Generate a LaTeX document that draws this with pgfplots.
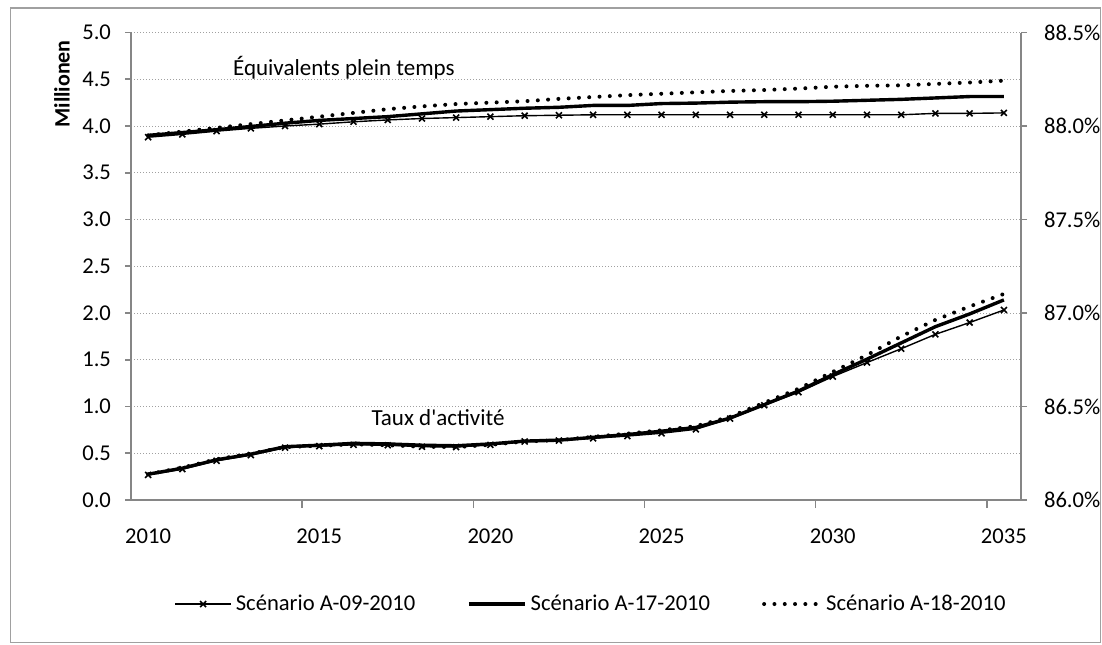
\documentclass[border=0pt]{standalone}
\usepackage{fontspec}
\setmainfont{Carlito}[Ligatures=TeXOff]
\usepackage{pgfplots}
\usepackage{pgfplotstable}
\pgfplotsset{compat=1.18}

% full-time equivalents, millions (left axis)
\pgfplotstableread{
year a09 a17 a18
2010 3.880 3.900 3.900
2011 3.910 3.930 3.940
2012 3.945 3.960 3.980
2013 3.975 3.995 4.020
2014 4.000 4.030 4.060
2015 4.020 4.060 4.100
2016 4.045 4.080 4.140
2017 4.065 4.100 4.180
2018 4.080 4.130 4.210
2019 4.090 4.160 4.235
2020 4.100 4.175 4.250
2021 4.110 4.190 4.265
2022 4.115 4.200 4.290
2023 4.120 4.220 4.310
2024 4.120 4.220 4.330
2025 4.120 4.240 4.345
2026 4.120 4.245 4.360
2027 4.120 4.255 4.375
2028 4.120 4.260 4.385
2029 4.120 4.260 4.400
2030 4.120 4.265 4.420
2031 4.120 4.275 4.430
2032 4.120 4.285 4.435
2033 4.135 4.300 4.450
2034 4.135 4.315 4.465
2035 4.140 4.315 4.485
}\fte

% activity rate, percent (right axis)
\pgfplotstableread{
year a09 a17 a18
2010 86.134 86.138 86.138
2011 86.165 86.170 86.173
2012 86.210 86.215 86.218
2013 86.240 86.245 86.248
2014 86.280 86.285 86.283
2015 86.288 86.293 86.290
2016 86.295 86.303 86.298
2017 86.293 86.300 86.293
2018 86.285 86.293 86.285
2019 86.283 86.290 86.283
2020 86.295 86.300 86.295
2021 86.313 86.315 86.313
2022 86.318 86.320 86.320
2023 86.330 86.335 86.338
2024 86.342 86.350 86.355
2025 86.357 86.368 86.373
2026 86.378 86.388 86.395
2027 86.435 86.438 86.445
2028 86.507 86.510 86.520
2029 86.576 86.583 86.595
2030 86.660 86.670 86.685
2031 86.735 86.753 86.775
2032 86.809 86.840 86.875
2033 86.886 86.927 86.963
2034 86.949 86.995 87.035
2035 87.016 87.070 87.102
}\taux

\definecolor{axgray}{HTML}{868686}
\definecolor{grgray}{HTML}{A0A0A0}

\pgfplotsset{
  base/.style={
    at={(65.5pt,72pt)}, anchor=south west,
    scale only axis, width=445pt, height=233.75pt,
    xmin=2009.5, xmax=2035.5,
    tick align=outside,
    major tick length=3pt,
    axis line style={axgray, line width=0.8pt},
    every tick/.style={axgray, line width=0.8pt},
    tick label style={font=\fontsize{11.3}{13}\selectfont, black},
    clip=false,
  },
  s09/.style={black, line width=0.7pt, mark=x, mark size=2.1pt,
    mark options={solid, line width=0.8pt}},
  s17/.style={black, line width=1.7pt},
  s18/.style={black, line width=2pt, line cap=round,
    dash pattern=on 0pt off 5.15pt},
}

\begin{document}
\begin{tikzpicture}
\path[use as bounding box] (0,0) rectangle (551pt,322pt);
\draw[grgray, line width=0.6pt] (5.25pt,0.6pt) rectangle (550.25pt,318pt);

\begin{axis}[base,
  axis y line*=left, axis x line*=bottom,
  ymin=0, ymax=5,
  ytick={0,0.5,...,5},
  yticklabels={0.0,0.5,1.0,1.5,2.0,2.5,3.0,3.5,4.0,4.5,5.0},
  ymajorgrids,
  grid style={grgray, line width=0.5pt, dash pattern=on 0.6pt off 0.9pt},
  xtick={2010,2015,2020,2025,2030,2035},
  xticklabels={2010,2015,2020,2025,2030,2035},
  major x tick style={draw=none},
  minor xtick={2014.5,2019.5,2024.5,2029.5,2034.5},
  minor tick length=4pt,
  minor x tick style={axgray, line width=0.8pt},
  xticklabel style={yshift=-8pt},
  yticklabel style={xshift=-3.5pt},
  ylabel={\bfseries Millionen},
  ylabel style={at={(axis description cs:-0.0775,0.89)}, anchor=center,
    font=\fontsize{11}{13}\selectfont},
  legend columns=3,
  legend style={draw=none, fill=none,
    at={(axis description cs:0.518,-0.2225)}, anchor=center,
    font=\fontsize{11.3}{13}\selectfont,
    /tikz/every even column/.append style={column sep=24pt}},
  legend image code/.code={%
    \draw[mark repeat=2, mark phase=2, #1]
      plot coordinates {(0pt,0pt) (14pt,0pt) (28pt,0pt)};},
]
\addplot[s09] table[x=year, y=a09] {\fte};
\addlegendentry{Scénario A-09-2010}
\addplot[s17] table[x=year, y=a17] {\fte};
\addlegendentry{Scénario A-17-2010}
\addplot[s18] table[x=year, y=a18] {\fte};
\addlegendentry{Scénario A-18-2010}
\node[font=\fontsize{11.5}{13}\selectfont] at (axis cs:2015.72,4.62) {Équivalents plein temps};
\node[font=\fontsize{11.5}{13}\selectfont] at (axis cs:2018.47,0.877) {Taux d'activité};
\end{axis}

\begin{axis}[base,
  axis y line*=right, axis x line=none,
  ymin=86, ymax=88.5,
  ytick={86,86.5,87,87.5,88,88.5},
  yticklabels={86.0\%,86.5\%,87.0\%,87.5\%,88.0\%,88.5\%},
  yticklabel style={xshift=5pt},
]
\addplot[s09] table[x=year, y=a09] {\taux};
\addplot[s17] table[x=year, y=a17] {\taux};
\addplot[s18] table[x=year, y=a18] {\taux};
\end{axis}
\end{tikzpicture}
\end{document}
